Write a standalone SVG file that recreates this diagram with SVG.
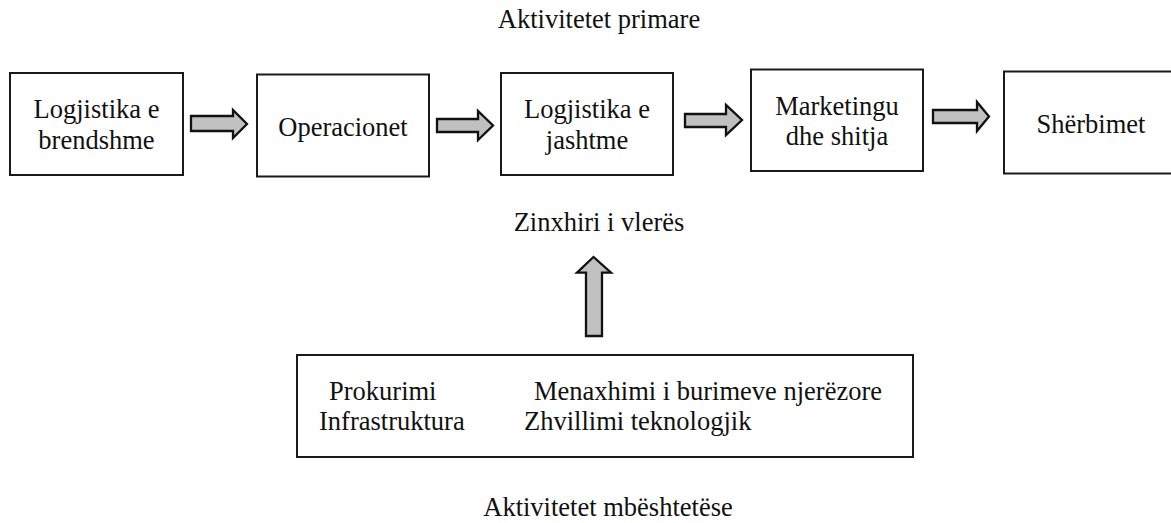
<svg xmlns="http://www.w3.org/2000/svg" width="1171" height="523" viewBox="0 0 1171 523" font-family="Liberation Serif, Times New Roman, serif" font-size="26.5">
<style>
.box{fill:#fff;stroke:#1a1a1a;stroke-width:2}
.arr{fill:#c0c0c0;stroke:#111;stroke-width:2.3;stroke-linejoin:miter}
.t{font-family:'Liberation Serif',serif;font-size:26.5px;fill:#111}
.c{text-anchor:middle}
</style>
<rect width="1171" height="523" fill="#fff"/>
<text class="t c" x="599" y="28">Aktivitetet primare</text>
<g id="n1"><rect class="box" x="10" y="73" width="173" height="102"/><text class="t c" x="96.5" y="118">Logjistika e</text><text class="t c" x="96.5" y="149">brendshme</text></g>
<g id="n2"><rect class="box" x="257" y="74.5" width="172" height="102"/><text class="t c" x="343" y="136">Operacionet</text></g>
<g id="n3"><rect class="box" x="501" y="73" width="172" height="102"/><text class="t c" x="587" y="118">Logjistika e</text><text class="t c" x="587" y="148.5">jashtme</text></g>
<g id="n4"><rect class="box" x="751" y="69.5" width="172" height="101.5"/><text class="t c" x="837" y="114.5">Marketingu</text><text class="t c" x="837" y="145">dhe shitja</text></g>
<g id="n5"><rect class="box" x="1004" y="71.5" width="172" height="102"/><text class="t c" x="1091" y="132.5">Shërbimet</text></g>
<text class="t c" x="599" y="231">Zinxhiri i vlerës</text>
<g id="connectors">
<polygon class="arr" points="191,116 233,116 233,110 247,124 233,138 233,131 191,131"/>
<polygon class="arr" points="437,119 478,119 478,111 493,125.5 478,140 478,132 437,132"/>
<polygon class="arr" points="685,114 726,114 726,105 742,120 726,135 726,127 685,127"/>
<polygon class="arr" points="933,110 977,110 977,102 989,116.5 977,131 977,123 933,123"/>
<polygon class="arr" points="586,336 586,272.7 577,272.7 593.5,257 611,272.7 602,272.7 602,336"/>
</g>
<g id="support"><rect class="box" x="297" y="355" width="616" height="102"/>
<text class="t" x="329" y="400">Prokurimi</text>
<text class="t" x="534" y="400">Menaxhimi i burimeve njerëzore</text>
<text class="t" x="319" y="430">Infrastruktura</text>
<text class="t" x="524" y="430">Zhvillimi teknologjik</text>
</g>
<text class="t c" x="608" y="516">Aktivitetet mbështetëse</text>
</svg>
